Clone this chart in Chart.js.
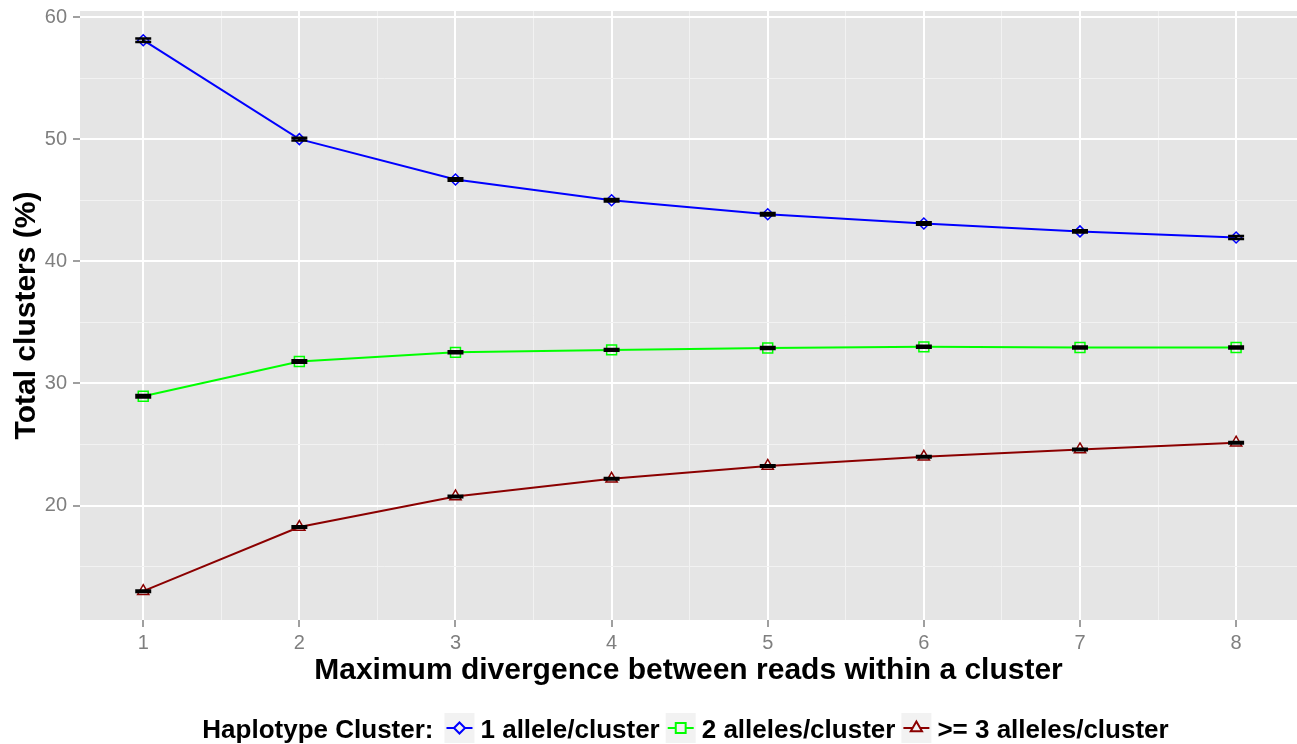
<!DOCTYPE html>
<html>
<head>
<meta charset="utf-8">
<script src="https://cdn.jsdelivr.net/npm/chart.js@4.4.1/dist/chart.umd.min.js"></script>
<style>
  body { margin: 0; background: #fff; overflow: hidden; }
  #wrap { width: 1297px; height: 744px; }
</style>
</head>
<body>
<div id="wrap"><canvas id="chart"></canvas></div>
<script>
// values
const divergence = [1, 2, 3, 4, 5, 6, 7, 8];
const oneAllele = [58.1, 50.0, 46.7, 45.0, 43.85, 43.1, 42.45, 41.95];
const twoAlleles = [28.95, 31.8, 32.55, 32.75, 32.9, 33.0, 32.95, 32.95];
const threeAlleles = [13.0, 18.25, 20.75, 22.2, 23.25, 24.0, 24.6, 25.15];
const oneAlleleErr = [0.14, 0.12, 0.1, 0.1, 0.1, 0.1, 0.1, 0.12];
const twoAllelesErr = [0.1, 0.1, 0.08, 0.08, 0.08, 0.08, 0.08, 0.08];
const threeAllelesErr = [0.06, 0.06, 0.06, 0.06, 0.06, 0.06, 0.06, 0.06];
const seriesNames = ['1 allele/cluster', '2 alleles/cluster', '>= 3 alleles/cluster'];

const xTicks = [1, 2, 3, 4, 5, 6, 7, 8];
const xMinor = [1.5, 2.5, 3.5, 4.5, 5.5, 6.5, 7.5];
const yTicks = [20, 30, 40, 50, 60];
const yMinor = [15, 25, 35, 45, 55];

const FONT = '"Liberation Sans", Arial, Helvetica, sans-serif';

function points(vals, errs) {
  return divergence.map((d, i) => ({ x: d, y: vals[i], err: errs[i] }));
}

function setTicks(majors, minors) {
  return scale => {
    scale.ticks = majors.concat(minors).sort((a, b) => a - b).map(v => ({ value: v }));
  };
}

function gridStyle(majors) {
  return {
    color: c => majors.includes(c.tick && c.tick.value) ? '#ffffff' : '#f2f2f2',
    lineWidth: c => majors.includes(c.tick && c.tick.value) ? 2 : 1,
    tickColor: c => majors.includes(c.tick && c.tick.value) ? '#7f7f7f' : 'rgba(0,0,0,0)',
    tickWidth: 1.5,
    tickLength: 7,
    drawTicks: true
  };
}

const panelBg = {
  id: 'panelBg',
  beforeDraw(chart) {
    const { ctx, chartArea: a } = chart;
    ctx.save();
    ctx.fillStyle = '#e5e5e5';
    ctx.fillRect(a.left, a.top, a.right - a.left, a.bottom - a.top);
    ctx.restore();
  }
};

const errorBars = {
  id: 'errorBars',
  afterDatasetsDraw(chart) {
    const { ctx, scales: { x, y } } = chart;
    ctx.save();
    ctx.strokeStyle = '#000';
    ctx.lineWidth = 2.5;
    chart.data.datasets.forEach(ds => {
      ds.data.forEach(p => {
        const px = x.getPixelForValue(p.x);
        const top = y.getPixelForValue(p.y + p.err);
        const bot = y.getPixelForValue(p.y - p.err);
        ctx.beginPath();
        ctx.moveTo(px - 8, top); ctx.lineTo(px + 8, top);
        ctx.moveTo(px - 8, bot); ctx.lineTo(px + 8, bot);
        ctx.moveTo(px, top); ctx.lineTo(px, bot);
        ctx.stroke();
      });
    });
    ctx.restore();
  }
};

// ggplot style legend below the panel, title on the left
const bottomLegend = {
  id: 'bottomLegend',
  afterDraw(chart) {
    const { ctx, chartArea: a } = chart;
    const cy = 728;
    const box = 30;
    ctx.save();
    ctx.font = 'bold 26px ' + FONT;
    ctx.textBaseline = 'middle';
    const title = 'Haplotype Cluster:';
    let total = ctx.measureText(title).width + 11;
    chart.data.datasets.forEach(ds => {
      total += box + 6 + ctx.measureText(ds.label).width + 6;
    });
    let x = (a.left + a.right) / 2 - total / 2;
    ctx.fillStyle = '#000';
    ctx.fillText(title, x, cy + 3);
    x += ctx.measureText(title).width + 11;
    chart.data.datasets.forEach(ds => {
      ctx.fillStyle = '#f2f2f2';
      ctx.fillRect(x, cy - box / 2, box, box);
      ctx.strokeStyle = ds.borderColor;
      ctx.lineWidth = 2;
      ctx.beginPath();
      ctx.moveTo(x + 2, cy); ctx.lineTo(x + box - 2, cy);
      ctx.stroke();
      Chart.helpers.drawPoint(ctx, {
        pointStyle: ds.pointStyle, radius: ds.pointRadius, borderWidth: 1.5
      }, x + box / 2, cy);
      x += box + 6;
      ctx.fillStyle = '#000';
      ctx.fillText(ds.label, x, cy + 3);
      x += ctx.measureText(ds.label).width + 6;
    });
    ctx.restore();
  }
};

function series(label, vals, errs, color, style, r) {
  return {
    label,
    data: points(vals, errs),
    borderColor: color,
    backgroundColor: color,
    borderWidth: 2,
    tension: 0,
    pointStyle: style,
    pointRadius: r,
    pointBorderWidth: 1.5,
    pointBackgroundColor: 'rgba(0,0,0,0)',
    pointBorderColor: color
  };
}

new Chart(document.getElementById('chart'), {
  type: 'line',
  data: {
    datasets: [
      series(seriesNames[0], oneAllele, oneAlleleErr, '#0000ff', 'rectRot', 5.5),
      series(seriesNames[1], twoAlleles, twoAllelesErr, '#00ff00', 'rect', 7),
      series(seriesNames[2], threeAlleles, threeAllelesErr, '#8b0000', 'triangle', 6.5)
    ]
  },
  plugins: [panelBg, errorBars, bottomLegend],
  options: {
    responsive: true,
    maintainAspectRatio: false,
    animation: false,
    layout: { autoPadding: false, padding: { top: 11, right: 0, bottom: 55, left: 0 } },
    plugins: {
      legend: { display: false },
      tooltip: { enabled: false }
    },
    scales: {
      x: {
        type: 'linear',
        min: 0.595,
        max: 8.39,
        afterBuildTicks: setTicks(xTicks, xMinor),
        afterFit: s => { s.height = 69; s.paddingLeft = 0; s.paddingRight = 0; },
        grid: gridStyle(xTicks),
        border: { display: false },
        ticks: {
          autoSkip: false,
          maxRotation: 0,
          padding: 4,
          color: '#7f7f7f',
          font: { family: FONT, size: 20 },
          callback: v => xTicks.includes(v) ? String(v) : ''
        },
        title: {
          display: true,
          text: 'Maximum divergence between reads within a cluster',
          color: '#000',
          font: { family: FONT, size: 30, weight: 'bold' },
          padding: { top: 0, bottom: 0 }
        }
      },
      y: {
        type: 'linear',
        min: 10.64,
        max: 60.49,
        afterBuildTicks: setTicks(yTicks, yMinor),
        afterFit: s => { s.width = 80; s.paddingTop = 0; s.paddingBottom = 0; },
        grid: gridStyle(yTicks),
        border: { display: false },
        ticks: {
          autoSkip: false,
          padding: 6,
          color: '#7f7f7f',
          font: { family: FONT, size: 20 },
          callback: v => yTicks.includes(v) ? String(v) : ''
        },
        title: {
          display: true,
          text: 'Total clusters (%)',
          color: '#000',
          font: { family: FONT, size: 30, weight: 'bold' },
          padding: { top: 9, bottom: 0 }
        }
      }
    }
  }
});
</script>
</body>
</html>
